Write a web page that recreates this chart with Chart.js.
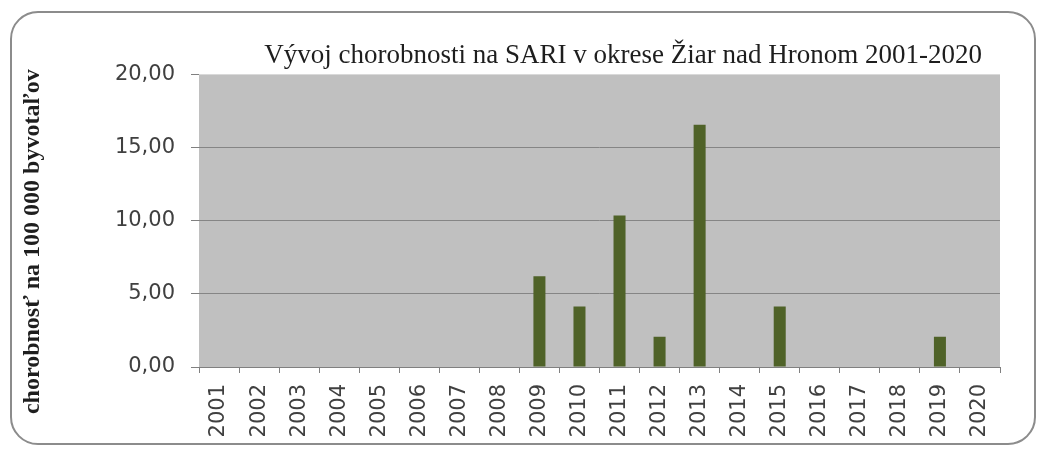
<!DOCTYPE html>
<html>
<head>
<meta charset="utf-8">
<script src="https://cdn.jsdelivr.net/npm/chart.js@4.4.1/dist/chart.umd.min.js"></script>
<style>
  html, body { margin: 0; padding: 0; background: #fff; }
  #wrap { position: relative; width: 1042px; height: 449px; overflow: hidden; }
  #frame {
    position: absolute; left: 10px; top: 11px; width: 1026px; height: 434px;
    box-sizing: border-box; border: 2px solid #8c8c8c; border-radius: 28px;
  }
  #chart { position: absolute; left: 0; top: 0; }
</style>
</head>
<body>
<div id="wrap">
  <div id="frame"></div>
  <canvas id="chart" width="1042" height="449"></canvas>
</div>
<script>
const years = ["2001", "2002", "2003", "2004", "2005", "2006", "2007", "2008", "2009", "2010",
               "2011", "2012", "2013", "2014", "2015", "2016", "2017", "2018", "2019", "2020"];
const incidence = [0, 0, 0, 0, 0, 0, 0, 0, 6.21, 4.14,
                   10.35, 2.07, 16.56, 0, 4.14, 0, 0, 0, 2.07, 0];
const yMin = 0;
const yMax = 20;
const yStep = 5;
const chartTitle = "Vývoj chorobnosti na SARI v okrese Žiar nad Hronom 2001-2020";
const yAxisTitle = "chorobnosť na 100 000 byvotaľov";

const serif = '"Liberation Serif", "Times New Roman", serif';
const sans = '"DejaVu Sans", Verdana, sans-serif';

// grey plot area like the Excel original
const plotBackground = {
    id: 'plotBackground',
    beforeDraw(chart) {
        const { ctx, chartArea } = chart;
        ctx.save();
        ctx.fillStyle = '#c0c0c0';
        ctx.fillRect(chartArea.left, chartArea.top, chartArea.right - chartArea.left, chartArea.bottom - chartArea.top);
        ctx.restore();
    }
};

// the titles sit a little off-centre in the original, pad them with spaces
const padSpaces = n => ' '.repeat(n);

new Chart(document.getElementById('chart').getContext('2d'), {
    type: 'bar',
    data: {
        labels: years,
        datasets: [{
            label: 'chorobnosť',
            data: incidence,
            backgroundColor: '#4f6228',
            borderWidth: 0,
            barPercentage: 0.3,
            categoryPercentage: 1.0
        }]
    },
    options: {
        responsive: false,
        animation: false,
        layout: { padding: { left: 18, right: 42, top: 40, bottom: 1 } },
        plugins: {
            legend: { display: false },
            tooltip: { enabled: false },
            title: {
                display: true,
                text: padSpaces(7) + chartTitle,
                fullSize: false,
                color: '#1e1e1e',
                font: { family: serif, size: 27, weight: 'normal' },
                padding: { top: 0, bottom: 2 }
            }
        },
        scales: {
            x: {
                grid: { offset: true, drawOnChartArea: false, drawTicks: true, tickLength: 6, color: '#808080' },
                border: { display: true, color: '#808080', width: 1 },
                ticks: {
                    color: '#404040',
                    font: { family: sans, size: 21 },
                    minRotation: 90,
                    maxRotation: 90,
                    autoSkip: false,
                    padding: 11
                },
                afterFit(scale) { scale.height = 81; }
            },
            y: {
                min: yMin,
                max: yMax,
                ticks: {
                    stepSize: yStep,
                    color: '#404040',
                    font: { family: sans, size: 21 },
                    padding: 16,
                    callback: v => v.toFixed(2).replace('.', ',')
                },
                grid: {
                    color: c => (c.tick && c.tick.value > yMin && c.tick.value < yMax) ? '#858585' : 'rgba(0,0,0,0)',
                    tickColor: '#808080',
                    tickLength: 8
                },
                border: { display: false },
                title: {
                    display: true,
                    text: yAxisTitle + padSpaces(7),
                    color: '#1e1e1e',
                    font: { family: serif, size: 24, weight: 'bold' },
                    padding: { top: 0, bottom: 0 }
                },
                afterFit(scale) { scale.width = 181; }
            }
        }
    },
    plugins: [plotBackground]
});
</script>
</body>
</html>
